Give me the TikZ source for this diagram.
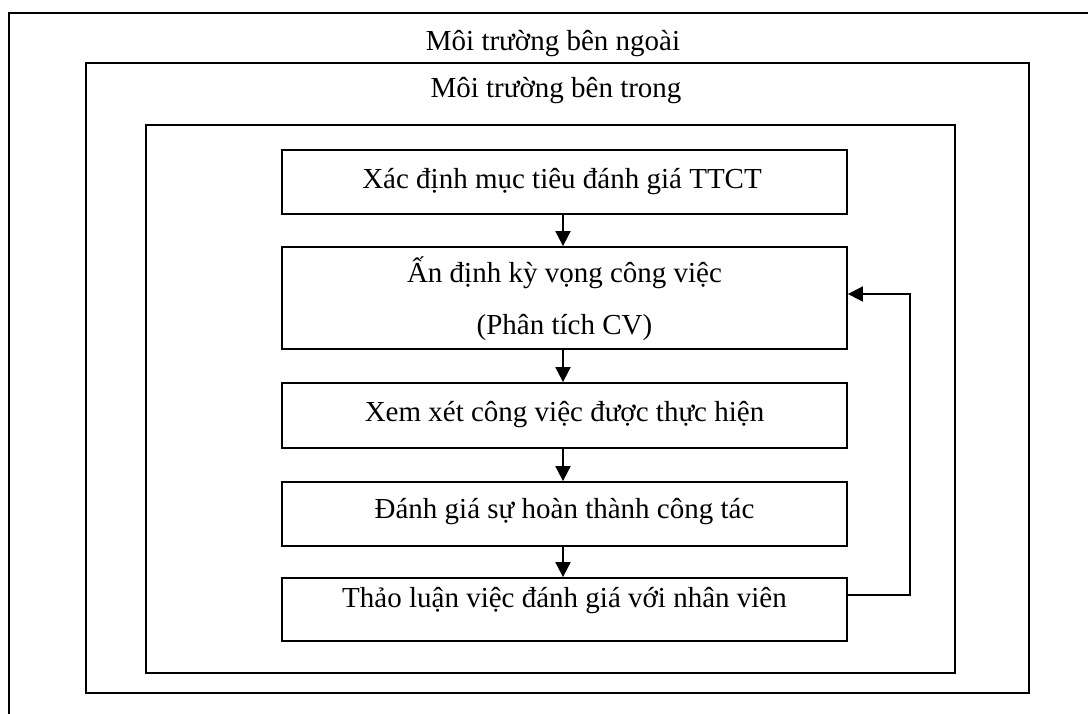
\documentclass[tikz,border=0pt]{standalone}
\usepackage{fontspec}
\setmainfont{Liberation Serif}
\usetikzlibrary{arrows.meta}
\begin{document}
\begin{tikzpicture}[x=1pt,y=-1pt,
  frame/.style={draw=black,line width=1.8pt},
  stagebox/.style={draw=black,line width=1.8pt,minimum width=565pt,inner sep=0pt},
  caption/.style={anchor=base,inner sep=0pt,font=\fontsize{29}{34}\selectfont},
  flow/.style={draw=black,line width=1.8pt,-{Triangle[length=15pt,width=15pt]}}]
\useasboundingbox (0,0) rectangle (1088,713);
% nested environment frames (the outermost runs off the page)
\draw[frame] (9,730) -- (9,13) -- (1100,13);
\draw[frame] (86,63) rectangle (1029,693);
\draw[frame] (146,125) rectangle (955,673);
\node[caption] (outerlbl) at (553,50) {Môi trường bên ngoài};
\node[caption] (innerlbl) at (556,97) {Môi trường bên trong};
% process steps
\node[stagebox,minimum height=64pt] (b1) at (564.5,182) {};
\node[stagebox,minimum height=102pt] (b2) at (564.5,298) {};
\node[stagebox,minimum height=65pt] (b3) at (564.5,415.5) {};
\node[stagebox,minimum height=64pt] (b4) at (564.5,514) {};
\node[stagebox,minimum height=63pt] (b5) at (564.5,609.5) {};
\node[caption] (t1) at (562,188) {Xác định mục tiêu đánh giá TTCT};
\node[caption] (t2a) at (564.5,282) {Ấn định kỳ vọng công việc};
\node[caption] (t2b) at (564.5,334) {(Phân tích CV)};
\node[caption] (t3) at (564.5,421) {Xem xét công việc được thực hiện};
\node[caption] (t4) at (564.5,518) {Đánh giá sự hoàn thành công tác};
\node[caption] (t5) at (564.5,607) {Thảo luận việc đánh giá với nhân viên};
% connectors
\draw[flow] (b1.south -| 563,0) -- (b2.north -| 563,0);
\draw[flow] (b2.south -| 563,0) -- (b3.north -| 563,0);
\draw[flow] (b3.south -| 563,0) -- (b4.north -| 563,0);
\draw[flow] (b4.south -| 563,0) -- (b5.north -| 563,0);
\coordinate (fbdown) at (910,595);
\coordinate (fbup) at (910,294);
\draw[flow] (b5.east |- fbdown) -- (fbdown) -- (fbup) -- (b2.east |- fbup);
\end{tikzpicture}
\end{document}
